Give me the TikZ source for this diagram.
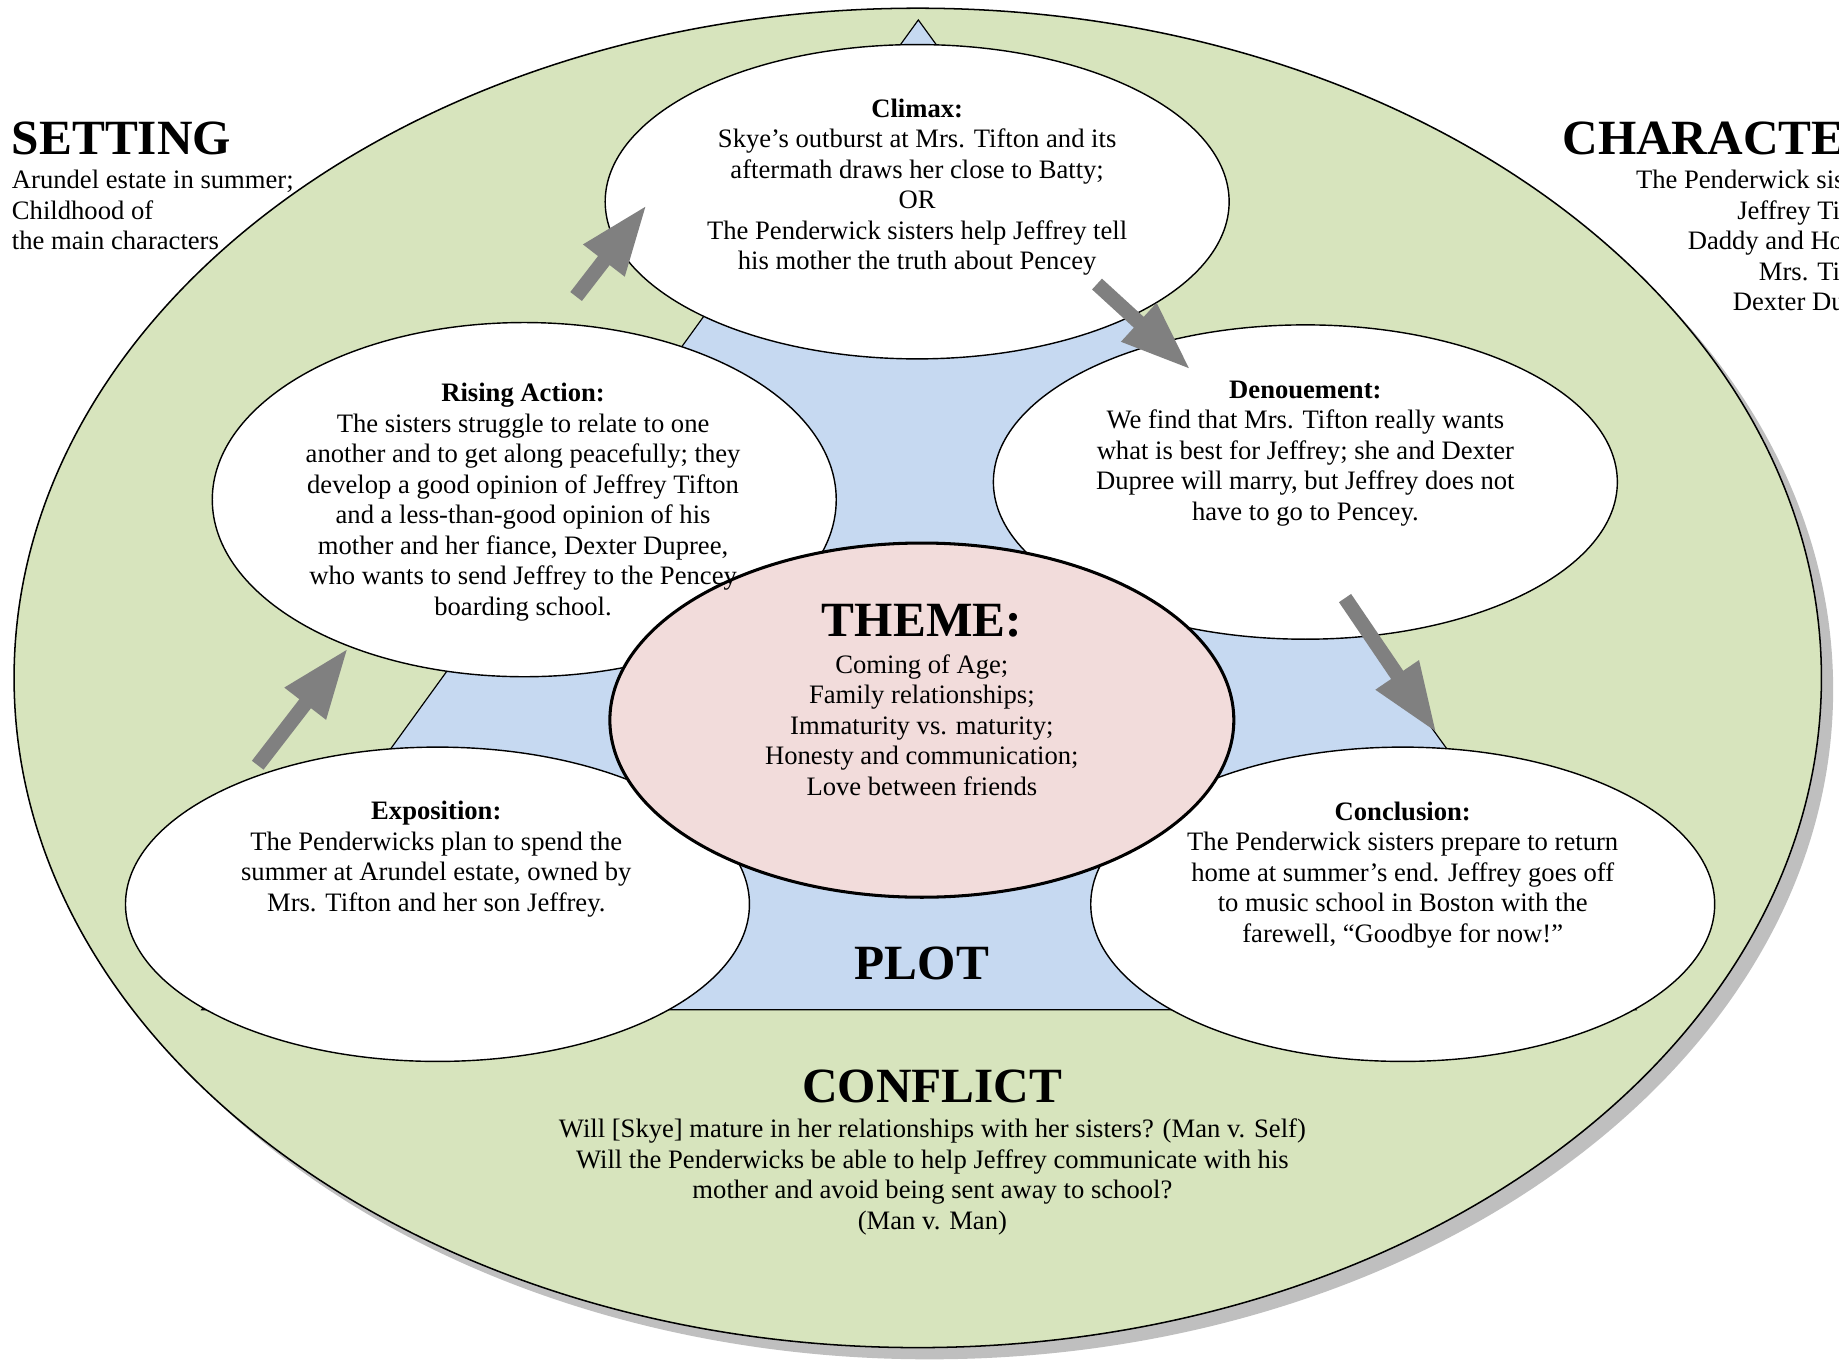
\documentclass[tikz,border=0pt]{standalone}
\usepackage{fontspec}
\setmainfont{Liberation Serif}
\usetikzlibrary{shapes.geometric,arrows.meta}
\definecolor{ogreen}{HTML}{D7E4BD}
\definecolor{pblue}{HTML}{C6D9F1}
\definecolor{tpink}{HTML}{F2DCDB}
\definecolor{agray}{HTML}{808080}
\definecolor{sgray}{HTML}{BFBFBF}
\newcommand\st{\rule[-7pt]{0pt}{26pt}}
\begin{document}
\begin{tikzpicture}[x=1pt,y=-1pt,
  oval/.style={ellipse, draw=black, line width=1.2pt, fill=white, inner sep=0pt, outer sep=0pt,
               minimum width=532pt, minimum height=268pt},
  body/.style={font=\fontsize{22.7}{26}\selectfont, align=center, inner sep=0pt},
  head/.style={font=\fontsize{42}{48}\selectfont\bfseries, inner sep=0pt},
  arr/.style={draw=agray, line width=12.5pt, -{Triangle[length=60pt,width=41pt]}}]
\useasboundingbox (0,0) rectangle (1568,1162.2);
% outer ellipse with shadow
\node[ellipse, fill=sgray, inner sep=0pt, outer sep=0pt, minimum width=1541pt, minimum height=1142pt] (outershadow) at (792.5,588) {};
\node[ellipse, fill=ogreen, draw=black, line width=1.3pt, inner sep=0pt, outer sep=0pt, minimum width=1541pt, minimum height=1142pt] (outer) at (782.5,578) {};
% plot triangle
\filldraw[fill=pblue, draw=black, line width=1pt, line join=miter] (783,17) -- (172,861) -- (1395,861) -- cycle;
% plot stages
\node[oval] (clim) at (782,172) {};
\node[oval, minimum height=302pt] (rise) at (447,426) {};
\node[oval] (den) at (1113,411) {};
\node[oval] (expo) at (373,771) {};
\node[oval] (conc) at (1196,771) {};
% arrows
\draw[arr, shorten <=16pt, shorten >=1.8pt] (expo.147.25) -- (rise.220.3);
\draw[arr, shorten <=29pt, shorten >=-42.1pt] (rise.80.58) -- (clim.188);
\draw[arr, shorten <=-40.1pt, shorten >=-34.2pt] (clim.332.67) -- (den.136.53);
\draw[arr, shorten <=-38.8pt, shorten >=16.1pt] (den.293.5) -- (conc.74.05);
% theme
\node[ellipse, draw=black, line width=2.6pt, fill=tpink, inner sep=0pt, outer sep=0pt,
      minimum width=532pt, minimum height=302pt] (theme) at (786,614) {};
% texts
\node[head, anchor=base west] (setting) at (10,132) {SETTING};
\node[body, align=left, anchor=west] (settingt) at (10,181) {\st Arundel estate in summer;\\\st Childhood of\\\st the main characters};
\begin{scope}
\clip (0,0) rectangle (1568,1162.2);
\node[head, anchor=base west] (characters) at (1332,132) {CHARACTERS};
\node[body, align=right, anchor=east] (characterst) at (1612,207) {\st The Penderwick sisters;\\\st Jeffrey Tifton;\\\st Daddy and Hound;\\\st Mrs. Tifton;\\\st Dexter Dupree};
\end{scope}
\node[body] (climt) at (782,159) {\st\textbf{Climax:}\\\st Skye’s outburst at Mrs. Tifton and its\\\st aftermath draws her close to Batty;\\\st OR\\\st The Penderwick sisters help Jeffrey tell\\\st his mother the truth about Pencey};
\node[body] (riset) at (446,427.5) {\st\textbf{Rising Action:}\\\st The sisters struggle to relate to one\\\st another and to get along peacefully; they\\\st develop a good opinion of Jeffrey Tifton\\\st and a less-than-good opinion of his\\\st mother and her fiance, Dexter Dupree,\\\st who wants to send Jeffrey to the Pencey\\\st boarding school.};
\node[body] (dent) at (1113,385.5) {\st\textbf{Denouement:}\\\st We find that Mrs. Tifton really wants\\\st what is best for Jeffrey; she and Dexter\\\st Dupree will marry, but Jeffrey does not\\\st have to go to Pencey.};
\node[body] (expot) at (372,732) {\st\textbf{Exposition:}\\\st The Penderwicks plan to spend the\\\st summer at Arundel estate, owned by\\\st Mrs. Tifton and her son Jeffrey.};
\node[body] (conct) at (1196,745.5) {\st\textbf{Conclusion:}\\\st The Penderwick sisters prepare to return\\\st home at summer’s end. Jeffrey goes off\\\st to music school in Boston with the\\\st farewell, “Goodbye for now!”};
\node[head, anchor=base] (themeh) at (786,543) {THEME:};
\node[body] (themet) at (786,620) {\st Coming of Age;\\\st Family relationships;\\\st Immaturity vs. maturity;\\\st Honesty and communication;\\\st Love between friends};
\node[head, anchor=base] (plot) at (786,835) {PLOT};
\node[head, anchor=base] (conflict) at (795,940) {CONFLICT};
\node[body] (conflictt) at (795,1003) {\st Will [Skye] mature in her relationships with her sisters? (Man v. Self)\\\st Will the Penderwicks be able to help Jeffrey communicate with his\\\st mother and avoid being sent away to school?\\\st (Man v. Man)};
\end{tikzpicture}
\end{document}
